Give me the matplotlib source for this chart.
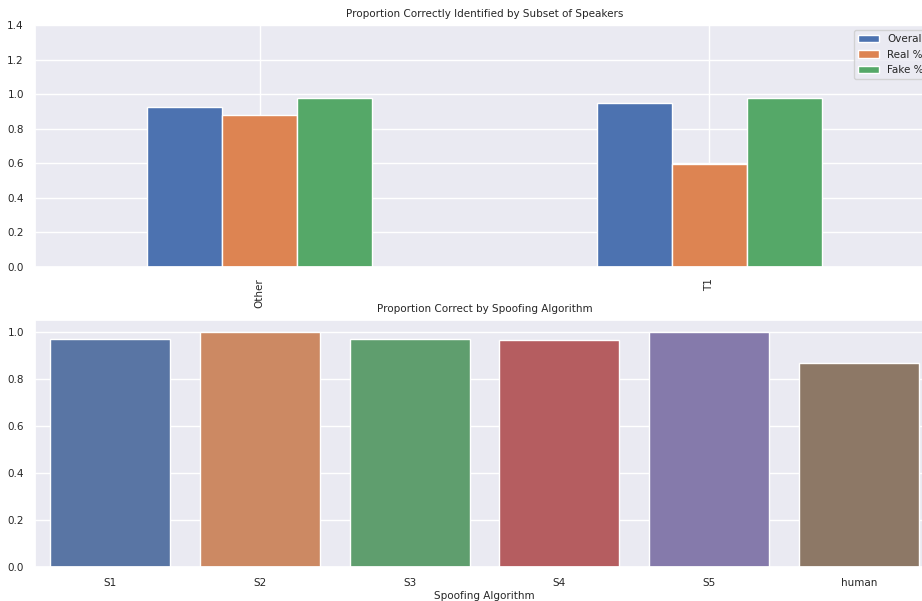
import matplotlib
matplotlib.use("Agg")
import matplotlib.pyplot as plt
import pandas as pd
import seaborn as sns

sns.set_theme()
plt.rcParams['font.family'] = ['DejaVu Sans']

# subsets of speakers
speakers = ["Other", "T1"]
overall = [0.927, 0.947]
real_pct = [0.877, 0.596]
fake_pct = [0.977, 0.979]

# spoofing algorithms
algorithms = ["S1", "S2", "S3", "S4", "S5", "human"]
correct = [0.967, 1.0, 0.970, 0.966, 1.0, 0.868]

fig = plt.figure(figsize=(9.22, 6.01), dpi=100)
ax1 = fig.add_axes([0.038, 0.5557, 0.975, 0.4027])
ax2 = fig.add_axes([0.038, 0.0571, 0.975, 0.4105])

df = pd.DataFrame({"Overall": overall, "Real %": real_pct, "Fake %": fake_pct},
                  index=speakers)
df.plot.bar(ax=ax1, edgecolor="white")
ax1.set_ylim(0, 1.4)
ax1.set_title("Proportion Correctly Identified by Subset of Speakers", fontsize=7.5)
ax1.tick_params(labelsize=7.5, pad=2)
ax1.legend(loc="upper right", fontsize=7.5)

df2 = pd.DataFrame({"Spoofing Algorithm": algorithms, "correct": correct})
sns.barplot(data=df2, x="Spoofing Algorithm", y="correct", hue="Spoofing Algorithm",
            palette="deep", legend=False, ax=ax2)
ax2.set_ylabel("")
ax2.set_title("Proportion Correct by Spoofing Algorithm", fontsize=7.5)
ax2.set_xlabel("Spoofing Algorithm", fontsize=7.5, labelpad=2)
ax2.tick_params(labelsize=7.5, pad=2)

fig.savefig("out.png", dpi=100)
